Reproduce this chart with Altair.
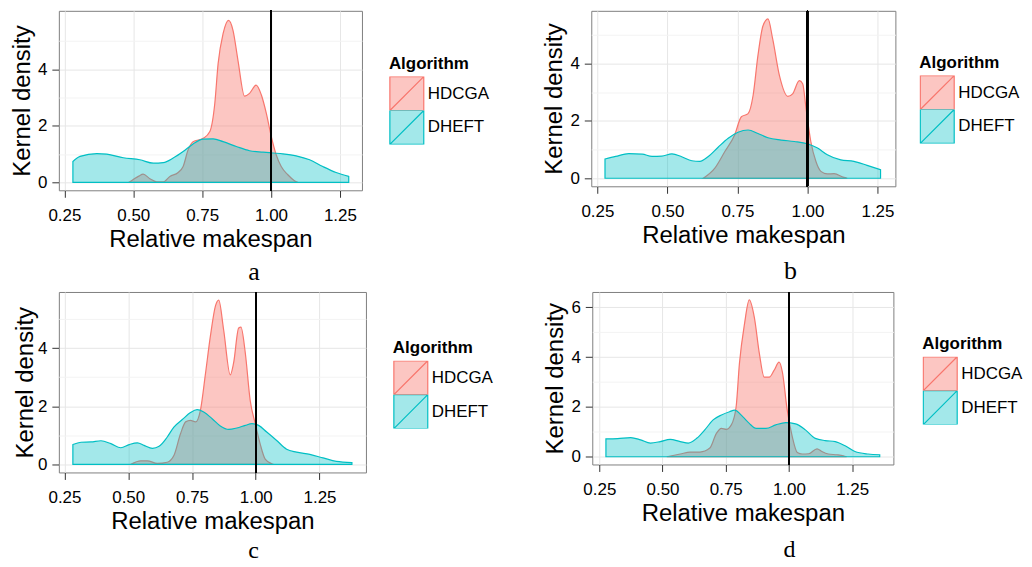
import altair as alt
import pandas as pd

ALGS = ["HDCGA", "DHEFT"]
FILL_COLORS = ["rgba(248,118,109,0.42)", "rgba(0,191,196,0.36)"]
LINE_COLORS = ["#F8766D", "#00BFC4"]

# Panel a
A_HDCGA_X = [0.484, 0.50, 0.52, 0.536, 0.56, 0.585, 0.609, 0.633, 0.663, 0.681, 0.699, 0.717, 0.754, 0.778, 0.796, 0.808, 0.826, 0.846, 0.862, 0.88, 0.904, 0.922, 0.946, 0.965, 0.983, 1.001, 1.019, 1.037, 1.061, 1.085, 1.097]
A_HDCGA_Y = [0.0, 0.10, 0.22, 0.29, 0.13, 0.02, 0.02, 0.21, 0.35, 0.56, 1.15, 1.44, 1.56, 1.80, 2.80, 4.20, 5.26, 5.73, 5.38, 4.32, 3.05, 3.15, 3.44, 3.09, 2.44, 1.62, 0.97, 0.56, 0.27, 0.06, 0.0]
A_DHEFT_X = [0.281, 0.307, 0.368, 0.404, 0.464, 0.524, 0.573, 0.609, 0.645, 0.681, 0.717, 0.754, 0.79, 0.826, 0.874, 0.922, 0.971, 1.007, 1.043, 1.091, 1.14, 1.188, 1.236, 1.282]
A_DHEFT_Y = [0.74, 0.92, 1.02, 1.00, 0.87, 0.80, 0.68, 0.70, 0.86, 1.09, 1.36, 1.53, 1.54, 1.44, 1.27, 1.12, 1.07, 1.04, 1.01, 0.94, 0.80, 0.56, 0.35, 0.21]

# Panel b
B_HDCGA_X = [0.628, 0.67, 0.705, 0.74, 0.764, 0.788, 0.806, 0.823, 0.841, 0.859, 0.876, 0.9, 0.93, 0.947, 0.971, 0.983, 0.995, 1.012, 1.03, 1.048, 1.071, 1.095, 1.13, 1.142]
B_HDCGA_Y = [0.0, 0.36, 0.93, 1.51, 2.14, 2.25, 2.89, 4.26, 5.30, 5.55, 4.84, 3.57, 2.85, 2.94, 3.40, 3.29, 2.43, 1.28, 0.59, 0.24, 0.15, 0.16, 0.03, 0.0]
B_DHEFT_X = [0.277, 0.315, 0.362, 0.41, 0.445, 0.48, 0.516, 0.551, 0.587, 0.616, 0.646, 0.681, 0.717, 0.752, 0.788, 0.823, 0.859, 0.906, 0.953, 1.0, 1.036, 1.071, 1.119, 1.166, 1.213, 1.261]
B_DHEFT_Y = [0.67, 0.76, 0.86, 0.84, 0.76, 0.77, 0.85, 0.75, 0.61, 0.59, 0.76, 1.08, 1.39, 1.60, 1.68, 1.56, 1.41, 1.33, 1.28, 1.20, 1.05, 0.82, 0.64, 0.59, 0.45, 0.30]

# Panel c
C_HDCGA_X = [0.51, 0.549, 0.575, 0.614, 0.653, 0.679, 0.705, 0.725, 0.744, 0.764, 0.783, 0.803, 0.822, 0.842, 0.855, 0.874, 0.9, 0.913, 0.933, 0.942, 0.959, 0.978, 0.998, 1.017, 1.037, 1.063, 1.069]
C_HDCGA_Y = [0.0, 0.12, 0.12, 0.03, 0.07, 0.30, 1.05, 1.46, 1.51, 1.46, 1.86, 3.13, 4.40, 5.45, 5.65, 4.63, 3.08, 3.48, 4.69, 4.72, 3.83, 2.21, 1.40, 0.71, 0.18, 0.02, 0.0]
C_DHEFT_X = [0.283, 0.315, 0.354, 0.393, 0.432, 0.471, 0.504, 0.536, 0.562, 0.595, 0.621, 0.653, 0.679, 0.712, 0.744, 0.77, 0.796, 0.829, 0.861, 0.894, 0.926, 0.959, 0.985, 1.011, 1.043, 1.082, 1.121, 1.16, 1.212, 1.264, 1.316, 1.377]
C_DHEFT_Y = [0.68, 0.76, 0.77, 0.81, 0.71, 0.57, 0.68, 0.74, 0.65, 0.55, 0.62, 0.94, 1.28, 1.54, 1.78, 1.88, 1.80, 1.57, 1.32, 1.20, 1.25, 1.34, 1.40, 1.34, 1.11, 0.82, 0.52, 0.42, 0.34, 0.22, 0.10, 0.06]

# Panel d
D_HDCGA_X = [0.517, 0.57, 0.609, 0.648, 0.687, 0.713, 0.733, 0.752, 0.772, 0.791, 0.804, 0.824, 0.843, 0.863, 0.883, 0.902, 0.922, 0.941, 0.961, 0.974, 0.993, 1.013, 1.033, 1.052, 1.078, 1.111, 1.13, 1.156, 1.189, 1.215, 1.228]
D_HDCGA_Y = [0.0, 0.11, 0.19, 0.19, 0.35, 0.94, 1.14, 1.10, 1.28, 2.01, 3.74, 5.33, 6.30, 5.60, 4.14, 3.20, 3.20, 3.47, 3.80, 3.40, 1.88, 0.81, 0.17, 0.11, 0.12, 0.32, 0.21, 0.11, 0.08, 0.04, 0.0]
D_DHEFT_X = [0.276, 0.322, 0.374, 0.413, 0.452, 0.491, 0.53, 0.57, 0.602, 0.635, 0.667, 0.7, 0.733, 0.765, 0.785, 0.817, 0.843, 0.87, 0.909, 0.948, 0.987, 1.026, 1.065, 1.104, 1.143, 1.183, 1.222, 1.261, 1.313, 1.359]
D_DHEFT_Y = [0.72, 0.73, 0.77, 0.68, 0.55, 0.61, 0.70, 0.61, 0.55, 0.74, 1.08, 1.48, 1.68, 1.81, 1.87, 1.61, 1.34, 1.14, 1.14, 1.28, 1.37, 1.32, 1.08, 0.74, 0.65, 0.61, 0.44, 0.21, 0.11, 0.08]

X_TICKS = [0.25, 0.375, 0.5, 0.625, 0.75, 0.875, 1.0, 1.125, 1.25, 1.375]
Y_TICKS = [0, 1, 2, 3, 4, 5, 6]

FONT = "Liberation Sans"
KEY_PATH = "M-1,-1H1V1H-1Z M-1,1L1,-1"

X_MAJOR = "abs(datum.value*4 - round(datum.value*4)) < 0.01"
Y_MAJOR = "datum.value % 2 === 0"


def panel(label, hx, hy, dx_, dy_, xdom, ydom, w, h, legx, legy, ytp, ymax_tick, tsize, toff, tdx):
    rows = [{"x": a, "y": b, "alg": "HDCGA"} for a, b in zip(hx, hy)]
    rows += [{"x": a, "y": b, "alg": "DHEFT"} for a, b in zip(dx_, dy_)]
    df = pd.DataFrame(rows)

    xt = [v for v in X_TICKS if xdom[0] <= v <= xdom[1]]
    yt = [v for v in Y_TICKS if v <= ymax_tick]

    xaxis = alt.Axis(
        values=xt, format=".2f", title="Relative makespan",
        labelExpr=f"{X_MAJOR} ? datum.label : ''",
        labelPadding=10, titlePadding=4,
        gridColor={"condition": {"test": X_MAJOR, "value": "#e6e6e6"}, "value": "#f3f3f3"},
        tickOpacity={"condition": {"test": X_MAJOR, "value": 1}, "value": 0},
    )
    yaxis = alt.Axis(
        values=yt, title="Kernel density", titlePadding=ytp,
        labelExpr=f"{Y_MAJOR} ? datum.label : ''",
        labelPadding=5,
        gridColor={"condition": {"test": Y_MAJOR, "value": "#e6e6e6"}, "value": "#f3f3f3"},
        tickOpacity={"condition": {"test": Y_MAJOR, "value": 1}, "value": 0},
    )
    leg = alt.Legend(
        title="Algorithm", orient="none", legendX=legx, legendY=legy,
        symbolType=KEY_PATH, symbolSize=1156, symbolStrokeWidth=1.2,
        clipHeight=34, rowPadding=0, padding=0,
        labelFontSize=17, labelFont=FONT, labelColor="black", labelOffset=3,
        titleFontSize=17, titleFont=FONT, titleFontWeight="bold", titleColor="black",
        titlePadding=4,
    )
    fill = alt.Fill("alg:N", scale=alt.Scale(domain=ALGS, range=FILL_COLORS), legend=leg)
    stroke = alt.Stroke("alg:N", scale=alt.Scale(domain=ALGS, range=LINE_COLORS), legend=leg)

    base = alt.Chart(df).mark_area(interpolate="monotone", strokeWidth=1.2).encode(
        x=alt.X("x:Q", scale=alt.Scale(domain=xdom, nice=False, zero=False), axis=xaxis),
        y=alt.Y("y:Q", scale=alt.Scale(domain=ydom, nice=False, zero=False), axis=yaxis),
        y2=alt.datum(0),
        fill=fill,
        stroke=stroke,
    )
    red = base.transform_filter(alt.datum.alg == "HDCGA")
    teal = base.transform_filter(alt.datum.alg == "DHEFT")
    rule = alt.Chart(df).mark_rule(color="black", strokeWidth=1.2).encode(x=alt.datum(1.0))
    return alt.layer(red, teal, rule).properties(
        width=w, height=h,
        title=alt.TitleParams(label, orient="bottom", font="Liberation Serif", fontSize=tsize,
                              fontWeight="normal", color="black", anchor="middle",
                              frame="bounds", offset=toff, dx=tdx),
    )


pa = panel("a", A_HDCGA_X, A_HDCGA_Y, A_DHEFT_X, A_DHEFT_Y, [0.23, 1.33], [-0.28, 6.07], 304, 180, 331, 45, 3, 5, 26, 8, 4)
pb = panel("b", B_HDCGA_X, B_HDCGA_Y, B_DHEFT_X, B_DHEFT_Y, [0.228, 1.314], [-0.28, 5.83], 305, 176, 329, 44, 3, 5, 26, 11, 9)
pc = panel("c", C_HDCGA_X, C_HDCGA_Y, C_DHEFT_X, C_DHEFT_Y, [0.228, 1.432], [-0.28, 5.93], 308, 181, 335, 48, 0, 5, 24, 6, 0)
pd_ = panel("d", D_HDCGA_X, D_HDCGA_Y, D_DHEFT_X, D_DHEFT_Y, [0.222, 1.413], [-0.31, 6.62], 302, 173, 331, 44, 3, 6, 24, 13, 6)

row1 = alt.hconcat(pa, pb, spacing=52).resolve_scale(fill="independent", stroke="independent")
row2 = alt.hconcat(pc, pd_, spacing=49).resolve_scale(fill="independent", stroke="independent")

chart = alt.vconcat(row1, row2, spacing=4).resolve_scale(
    fill="independent", stroke="independent"
).properties(
    padding={"left": 2, "top": 0, "right": 0, "bottom": 0},
    background="white",
).configure_view(
    stroke="#808080", strokeWidth=1
).configure_axis(
    domain=False, tickColor="#333333", tickSize=7, tickWidth=1,
    labelFont=FONT, labelFontSize=17, labelColor="black",
    titleFont=FONT, titleFontSize=24, titleFontWeight="normal", titleColor="black",
    gridWidth=1,
)

chart.save("out.html", embed_options={"renderer": "svg", "actions": False})
